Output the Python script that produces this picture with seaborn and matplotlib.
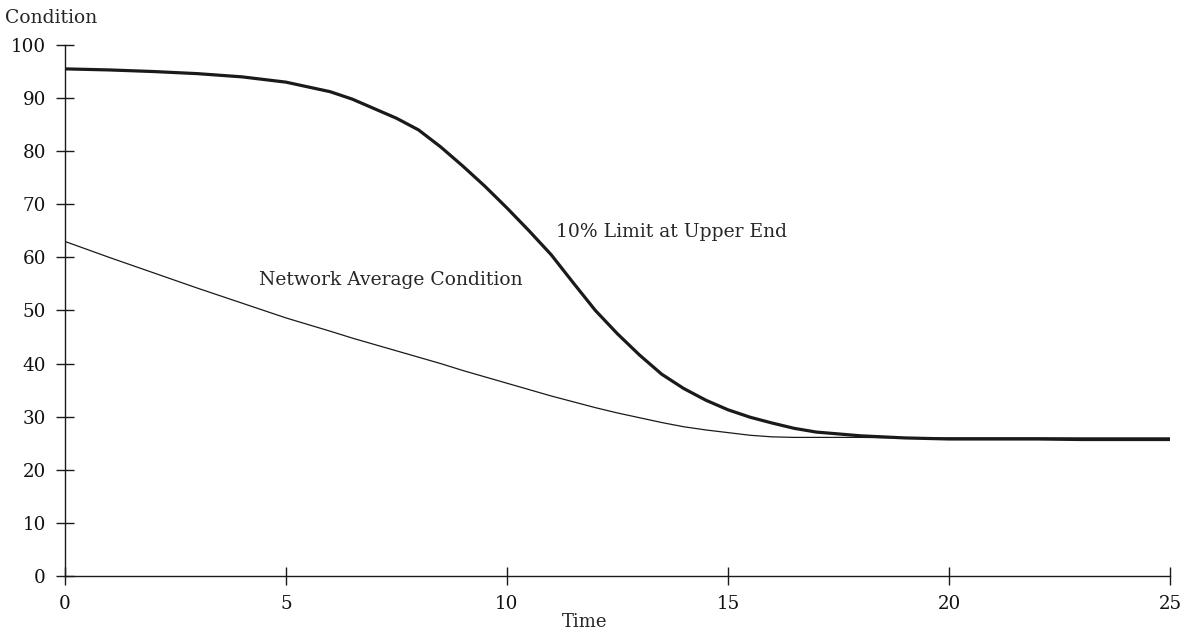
import matplotlib
matplotlib.use("Agg")
import matplotlib.pyplot as plt
import seaborn as sns
import pandas as pd

# time steps
time = [0, 1, 2, 3, 4, 5, 6, 6.5, 7, 7.5, 8, 8.5, 9, 9.5, 10, 10.5, 11, 11.5,
        12, 12.5, 13, 13.5, 14, 14.5, 15, 15.5, 16, 16.5, 17, 18, 19, 20, 21,
        22, 23, 24, 25]

# 10% limit at upper end (thick curve)
limit_upper = [95.5, 95.3, 95.0, 94.6, 94.0, 93.0, 91.2, 89.8, 88.0, 86.2, 84.0,
               80.8, 77.2, 73.4, 69.3, 65.0, 60.5, 55.2, 50.0, 45.6, 41.6, 38.0,
               35.3, 33.1, 31.3, 29.9, 28.8, 27.8, 27.1, 26.4, 26.0, 25.8, 25.8,
               25.8, 25.7, 25.7, 25.7]

# network average condition (thin curve)
network_avg = [63.0, 60.0, 57.1, 54.2, 51.4, 48.6, 46.1, 44.8, 43.6, 42.4, 41.2,
               40.0, 38.7, 37.5, 36.3, 35.1, 33.9, 32.8, 31.7, 30.7, 29.8, 28.9,
               28.1, 27.5, 27.0, 26.5, 26.2, 26.1, 26.1, 26.1, 26.0, 26.0, 26.0,
               26.0, 26.0, 26.0, 26.0]

df = pd.DataFrame({"time": time, "limit": limit_upper, "avg": network_avg})

sns.set_style("ticks")
plt.rcParams["font.family"] = ["DejaVu Serif"]

fig = plt.figure(figsize=(11.9, 6.38), dpi=100)
ax = fig.add_axes([0.0546, 0.0972, 0.9286, 0.8323])

sns.lineplot(data=df, x="time", y="avg", ax=ax, color="#1a1a1a", linewidth=0.9)
sns.lineplot(data=df, x="time", y="limit", ax=ax, color="#1a1a1a", linewidth=2.3)

ax.set_xlim(0, 25)
ax.set_ylim(0, 100)
ax.set_xticks(range(0, 26, 5))
ax.set_yticks(range(0, 101, 10))
ax.tick_params(direction="inout", length=13.5, width=1, labelsize=13.2,
               color="#1a1a1a", labelcolor="#111111")
ax.tick_params(axis="x", pad=7)
ax.tick_params(axis="y", pad=7)
sns.despine(ax=ax)
for s in ["left", "bottom"]:
    ax.spines[s].set_linewidth(1)
    ax.spines[s].set_color("#1a1a1a")

ax.set_xlabel("")
ax.set_ylabel("")
fig.text(585 / 1190, 1 - 622 / 638, "Time", ha="center", va="center", fontsize=13)
fig.text(5 / 1190, 1 - 18 / 638, "Condition", ha="left", va="center", fontsize=13.5)

ax.text(11.1, 64.8, "10% Limit at Upper End", ha="left", va="center", fontsize=13.5)
ax.text(4.39, 55.7, "Network Average Condition", ha="left", va="center", fontsize=13.5)

fig.savefig("out.png", dpi=100)
